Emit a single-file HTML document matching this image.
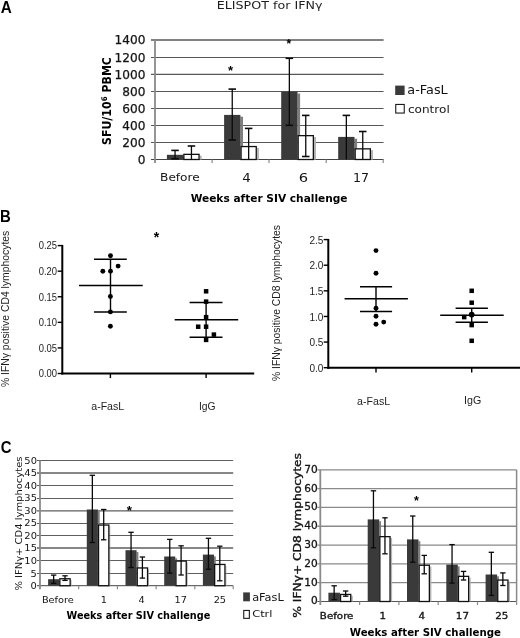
<!DOCTYPE html><html><head><meta charset="utf-8"><title>ELISPOT for IFN&#947;</title><style>html,body{margin:0;padding:0;background:#fff;}svg{display:block;}</style></head><body>
<svg width="520" height="638" viewBox="0 0 520 638">
<rect x="0" y="0" width="520" height="638" fill="#fff"/>
<text x="0.65" y="12.75" font-family="'Liberation Sans',Arial,sans-serif" font-size="16.10" font-weight="bold" fill="#000" textLength="11.01" lengthAdjust="spacingAndGlyphs">A</text>
<text x="216.75" y="9.45" font-family="'DejaVu Sans',Verdana,sans-serif" font-size="11.34" font-weight="normal" fill="#1e1e1e" textLength="105.76" lengthAdjust="spacingAndGlyphs">ELISPOT for IFN&#947;</text>
<text x="137.75" y="163.77" font-family="'DejaVu Sans',Verdana,sans-serif" font-size="11.67" font-weight="normal" fill="#141414" textLength="7.72" lengthAdjust="spacingAndGlyphs" stroke="#141414" stroke-width="0.25">0</text>
<text x="122.32" y="146.77" font-family="'DejaVu Sans',Verdana,sans-serif" font-size="11.67" font-weight="normal" fill="#141414" textLength="23.15" lengthAdjust="spacingAndGlyphs" stroke="#141414" stroke-width="0.25">200</text>
<text x="122.32" y="129.77" font-family="'DejaVu Sans',Verdana,sans-serif" font-size="11.67" font-weight="normal" fill="#141414" textLength="23.15" lengthAdjust="spacingAndGlyphs" stroke="#141414" stroke-width="0.25">400</text>
<text x="122.32" y="112.77" font-family="'DejaVu Sans',Verdana,sans-serif" font-size="11.67" font-weight="normal" fill="#141414" textLength="23.15" lengthAdjust="spacingAndGlyphs" stroke="#141414" stroke-width="0.25">600</text>
<text x="122.32" y="95.77" font-family="'DejaVu Sans',Verdana,sans-serif" font-size="11.67" font-weight="normal" fill="#141414" textLength="23.15" lengthAdjust="spacingAndGlyphs" stroke="#141414" stroke-width="0.25">800</text>
<text x="114.60" y="78.52" font-family="'DejaVu Sans',Verdana,sans-serif" font-size="11.67" font-weight="normal" fill="#141414" textLength="30.87" lengthAdjust="spacingAndGlyphs" stroke="#141414" stroke-width="0.25">1000</text>
<text x="114.60" y="61.77" font-family="'DejaVu Sans',Verdana,sans-serif" font-size="11.67" font-weight="normal" fill="#141414" textLength="30.87" lengthAdjust="spacingAndGlyphs" stroke="#141414" stroke-width="0.25">1200</text>
<text x="114.60" y="44.27" font-family="'DejaVu Sans',Verdana,sans-serif" font-size="11.67" font-weight="normal" fill="#141414" textLength="30.87" lengthAdjust="spacingAndGlyphs" stroke="#141414" stroke-width="0.25">1400</text>
<line x1="151.00" y1="142.50" x2="383.60" y2="142.50" stroke="#585858" stroke-width="1.0"/>
<line x1="151.00" y1="125.50" x2="383.60" y2="125.50" stroke="#585858" stroke-width="1.0"/>
<line x1="151.00" y1="108.50" x2="383.60" y2="108.50" stroke="#585858" stroke-width="1.0"/>
<line x1="151.00" y1="91.50" x2="383.60" y2="91.50" stroke="#585858" stroke-width="1.0"/>
<line x1="151.00" y1="74.25" x2="383.60" y2="74.25" stroke="#585858" stroke-width="1.25"/>
<line x1="151.00" y1="57.50" x2="383.60" y2="57.50" stroke="#585858" stroke-width="1.0"/>
<line x1="151.00" y1="40.00" x2="383.60" y2="40.00" stroke="#585858" stroke-width="1.45"/>
<line x1="151.00" y1="159.50" x2="383.60" y2="159.50" stroke="#444" stroke-width="1.0"/>
<line x1="155.00" y1="40.00" x2="155.00" y2="163.00" stroke="#8a8a8a" stroke-width="1.8"/>
<line x1="212.10" y1="159.50" x2="212.10" y2="163.00" stroke="#8a8a8a" stroke-width="1.2"/>
<line x1="269.00" y1="159.50" x2="269.00" y2="163.00" stroke="#8a8a8a" stroke-width="1.2"/>
<line x1="326.20" y1="159.50" x2="326.20" y2="163.00" stroke="#8a8a8a" stroke-width="1.2"/>
<line x1="383.20" y1="159.50" x2="383.20" y2="163.00" stroke="#8a8a8a" stroke-width="1.2"/>
<rect x="183.20" y="156.60" width="2.60" height="2.90" fill="#7e7e7e"/>
<rect x="166.90" y="154.80" width="16.30" height="4.70" fill="#3a3a3a"/>
<rect x="199.70" y="155.70" width="2.00" height="3.80" fill="#b4b4b4"/>
<rect x="183.85" y="154.35" width="15.20" height="5.15" fill="#fff" stroke="#111" stroke-width="1.3"/>
<rect x="240.40" y="116.70" width="2.60" height="42.80" fill="#7e7e7e"/>
<rect x="224.10" y="114.90" width="16.30" height="44.60" fill="#3a3a3a"/>
<rect x="256.90" y="147.90" width="2.00" height="11.60" fill="#b4b4b4"/>
<rect x="241.05" y="146.55" width="15.20" height="12.95" fill="#fff" stroke="#111" stroke-width="1.3"/>
<rect x="297.50" y="93.50" width="2.60" height="66.00" fill="#7e7e7e"/>
<rect x="281.20" y="91.70" width="16.30" height="67.80" fill="#3a3a3a"/>
<rect x="314.00" y="137.00" width="2.00" height="22.50" fill="#b4b4b4"/>
<rect x="298.15" y="135.65" width="15.20" height="23.85" fill="#fff" stroke="#111" stroke-width="1.3"/>
<rect x="354.50" y="138.70" width="2.60" height="20.80" fill="#7e7e7e"/>
<rect x="338.20" y="136.90" width="16.30" height="22.60" fill="#3a3a3a"/>
<rect x="371.00" y="150.20" width="2.00" height="9.30" fill="#b4b4b4"/>
<rect x="355.15" y="148.85" width="15.20" height="10.65" fill="#fff" stroke="#111" stroke-width="1.3"/>
<line x1="175.05" y1="150.40" x2="175.05" y2="158.80" stroke="#0a0a0a" stroke-width="1.3"/>
<line x1="171.30" y1="150.40" x2="178.80" y2="150.40" stroke="#0a0a0a" stroke-width="1.6"/>
<line x1="171.30" y1="158.80" x2="178.80" y2="158.80" stroke="#0a0a0a" stroke-width="1.6"/>
<line x1="191.45" y1="146.00" x2="191.45" y2="159.40" stroke="#0a0a0a" stroke-width="1.3"/>
<line x1="187.70" y1="146.00" x2="195.20" y2="146.00" stroke="#0a0a0a" stroke-width="1.6"/>
<line x1="232.25" y1="89.10" x2="232.25" y2="140.00" stroke="#0a0a0a" stroke-width="1.3"/>
<line x1="228.50" y1="89.10" x2="236.00" y2="89.10" stroke="#0a0a0a" stroke-width="1.6"/>
<line x1="228.50" y1="140.00" x2="236.00" y2="140.00" stroke="#0a0a0a" stroke-width="1.6"/>
<line x1="248.65" y1="128.40" x2="248.65" y2="159.40" stroke="#0a0a0a" stroke-width="1.3"/>
<line x1="244.90" y1="128.40" x2="252.40" y2="128.40" stroke="#0a0a0a" stroke-width="1.6"/>
<line x1="289.35" y1="58.30" x2="289.35" y2="125.30" stroke="#0a0a0a" stroke-width="1.3"/>
<line x1="285.60" y1="58.30" x2="293.10" y2="58.30" stroke="#0a0a0a" stroke-width="1.6"/>
<line x1="285.60" y1="125.30" x2="293.10" y2="125.30" stroke="#0a0a0a" stroke-width="1.6"/>
<line x1="305.75" y1="115.40" x2="305.75" y2="156.50" stroke="#0a0a0a" stroke-width="1.3"/>
<line x1="302.00" y1="115.40" x2="309.50" y2="115.40" stroke="#0a0a0a" stroke-width="1.6"/>
<line x1="302.00" y1="156.50" x2="309.50" y2="156.50" stroke="#0a0a0a" stroke-width="1.6"/>
<line x1="346.35" y1="115.40" x2="346.35" y2="159.40" stroke="#0a0a0a" stroke-width="1.3"/>
<line x1="342.60" y1="115.40" x2="350.10" y2="115.40" stroke="#0a0a0a" stroke-width="1.6"/>
<line x1="362.75" y1="131.50" x2="362.75" y2="159.40" stroke="#0a0a0a" stroke-width="1.3"/>
<line x1="359.00" y1="131.50" x2="366.50" y2="131.50" stroke="#0a0a0a" stroke-width="1.6"/>
<text x="230.60" y="75.24" font-family="'Liberation Sans',Arial,sans-serif" font-size="13.02" font-weight="bold" text-anchor="middle" fill="#000">*</text>
<text x="288.80" y="47.92" font-family="'Liberation Sans',Arial,sans-serif" font-size="11.98" font-weight="bold" text-anchor="middle" fill="#000">*</text>
<text transform="translate(110.60,144.98) rotate(-90)" font-family="'DejaVu Sans',Verdana,sans-serif" font-size="11.99" font-weight="bold" fill="#000" textLength="87.87" lengthAdjust="spacingAndGlyphs">SFU/10<tspan font-size="65%" dy="-0.40em">6</tspan><tspan dy="0.26em"> PBMC</tspan></text>
<text x="160.07" y="181.40" font-family="'DejaVu Sans',Verdana,sans-serif" font-size="11.33" font-weight="normal" fill="#141414" textLength="39.68" lengthAdjust="spacingAndGlyphs">Before</text>
<text x="242.15" y="181.90" font-family="'DejaVu Sans',Verdana,sans-serif" font-size="12.01" font-weight="normal" fill="#141414" textLength="8.49" lengthAdjust="spacingAndGlyphs">4</text>
<text x="298.80" y="181.65" font-family="'DejaVu Sans',Verdana,sans-serif" font-size="11.66" font-weight="normal" fill="#141414" textLength="9.36" lengthAdjust="spacingAndGlyphs">6</text>
<text x="352.93" y="182.05" font-family="'DejaVu Sans',Verdana,sans-serif" font-size="11.81" font-weight="normal" fill="#141414" textLength="16.07" lengthAdjust="spacingAndGlyphs">17</text>
<text x="190.70" y="201.75" font-family="'DejaVu Sans',Verdana,sans-serif" font-size="11.30" font-weight="bold" fill="#000" textLength="156.87" lengthAdjust="spacingAndGlyphs">Weeks after SIV challenge</text>
<rect x="395.20" y="85.60" width="9.40" height="9.40" fill="#3a3a3a"/>
<rect x="395.75" y="104.45" width="8.50" height="8.60" fill="#fff" stroke="#1a1a1a" stroke-width="1.1"/>
<text x="407.37" y="94.48" font-family="'DejaVu Sans',Verdana,sans-serif" font-size="11.53" font-weight="normal" fill="#141414" textLength="40.35" lengthAdjust="spacingAndGlyphs">a-FasL</text>
<text x="407.95" y="112.60" font-family="'DejaVu Sans',Verdana,sans-serif" font-size="11.22" font-weight="normal" fill="#141414" textLength="41.82" lengthAdjust="spacingAndGlyphs">control</text>
<text x="0.07" y="221.60" font-family="'Liberation Sans',Arial,sans-serif" font-size="15.59" font-weight="bold" fill="#000" textLength="10.79" lengthAdjust="spacingAndGlyphs">B</text>
<line x1="62.30" y1="244.90" x2="62.30" y2="374.50" stroke="#000" stroke-width="2.0"/>
<line x1="61.30" y1="373.50" x2="254.20" y2="373.50" stroke="#000" stroke-width="2.0"/>
<line x1="57.70" y1="245.60" x2="62.30" y2="245.60" stroke="#000" stroke-width="1.4"/>
<text x="38.78" y="249.48" font-family="'Liberation Sans',Arial,sans-serif" font-size="10.21" font-weight="normal" fill="#1e1e1e" textLength="18.32" lengthAdjust="spacingAndGlyphs">0.25</text>
<line x1="57.70" y1="271.18" x2="62.30" y2="271.18" stroke="#000" stroke-width="1.4"/>
<text x="38.78" y="275.06" font-family="'Liberation Sans',Arial,sans-serif" font-size="10.21" font-weight="normal" fill="#1e1e1e" textLength="18.32" lengthAdjust="spacingAndGlyphs">0.20</text>
<line x1="57.70" y1="296.76" x2="62.30" y2="296.76" stroke="#000" stroke-width="1.4"/>
<text x="38.78" y="300.63" font-family="'Liberation Sans',Arial,sans-serif" font-size="10.21" font-weight="normal" fill="#1e1e1e" textLength="18.32" lengthAdjust="spacingAndGlyphs">0.15</text>
<line x1="57.70" y1="322.34" x2="62.30" y2="322.34" stroke="#000" stroke-width="1.4"/>
<text x="38.78" y="326.22" font-family="'Liberation Sans',Arial,sans-serif" font-size="10.21" font-weight="normal" fill="#1e1e1e" textLength="18.32" lengthAdjust="spacingAndGlyphs">0.10</text>
<line x1="57.70" y1="347.92" x2="62.30" y2="347.92" stroke="#000" stroke-width="1.4"/>
<text x="38.78" y="351.79" font-family="'Liberation Sans',Arial,sans-serif" font-size="10.21" font-weight="normal" fill="#1e1e1e" textLength="18.32" lengthAdjust="spacingAndGlyphs">0.05</text>
<line x1="57.70" y1="373.50" x2="62.30" y2="373.50" stroke="#000" stroke-width="1.4"/>
<text x="38.78" y="377.38" font-family="'Liberation Sans',Arial,sans-serif" font-size="10.21" font-weight="normal" fill="#1e1e1e" textLength="18.32" lengthAdjust="spacingAndGlyphs">0.00</text>
<line x1="110.40" y1="373.50" x2="110.40" y2="378.10" stroke="#000" stroke-width="1.4"/>
<line x1="206.10" y1="373.50" x2="206.10" y2="378.10" stroke="#000" stroke-width="1.4"/>
<line x1="79.00" y1="285.60" x2="142.70" y2="285.60" stroke="#000" stroke-width="1.5"/>
<line x1="94.00" y1="259.20" x2="126.80" y2="259.20" stroke="#000" stroke-width="1.5"/>
<line x1="94.00" y1="311.90" x2="126.80" y2="311.90" stroke="#000" stroke-width="1.5"/>
<line x1="110.50" y1="259.20" x2="110.50" y2="311.90" stroke="#000" stroke-width="1.4"/>
<circle cx="110.5" cy="255.7" r="2.45" fill="#000"/>
<circle cx="118.1" cy="266.1" r="2.45" fill="#000"/>
<circle cx="102.8" cy="271.3" r="2.45" fill="#000"/>
<circle cx="110.5" cy="271.3" r="2.45" fill="#000"/>
<circle cx="110.4" cy="296.5" r="2.45" fill="#000"/>
<circle cx="110.4" cy="311.9" r="2.45" fill="#000"/>
<circle cx="110.4" cy="326.3" r="2.45" fill="#000"/>
<line x1="174.70" y1="319.70" x2="238.20" y2="319.70" stroke="#000" stroke-width="1.5"/>
<line x1="189.60" y1="302.40" x2="222.50" y2="302.40" stroke="#000" stroke-width="1.5"/>
<line x1="189.60" y1="337.30" x2="222.50" y2="337.30" stroke="#000" stroke-width="1.5"/>
<line x1="206.10" y1="302.40" x2="206.10" y2="337.30" stroke="#000" stroke-width="1.4"/>
<rect x="203.85" y="289.05" width="4.50" height="4.50" fill="#000"/>
<rect x="203.85" y="299.35" width="4.50" height="4.50" fill="#000"/>
<rect x="203.85" y="314.95" width="4.50" height="4.50" fill="#000"/>
<rect x="195.95" y="324.45" width="4.50" height="4.50" fill="#000"/>
<rect x="203.85" y="324.45" width="4.50" height="4.50" fill="#000"/>
<rect x="211.65" y="332.35" width="4.50" height="4.50" fill="#000"/>
<rect x="203.85" y="337.65" width="4.50" height="4.50" fill="#000"/>
<text x="156.50" y="241.67" font-family="'Liberation Sans',Arial,sans-serif" font-size="14.06" font-weight="bold" text-anchor="middle" fill="#000">*</text>
<text x="91.25" y="410.40" font-family="'Liberation Sans',Arial,sans-serif" font-size="10.65" font-weight="normal" fill="#1e1e1e" textLength="32.94" lengthAdjust="spacingAndGlyphs">a-FasL</text>
<text x="199.00" y="409.83" font-family="'Liberation Sans',Arial,sans-serif" font-size="10.28" font-weight="normal" fill="#1e1e1e" textLength="16.66" lengthAdjust="spacingAndGlyphs">IgG</text>
<text transform="translate(8.77,387.05) rotate(-90)" font-family="'Liberation Sans',Arial,sans-serif" font-size="10.38" font-weight="normal" fill="#1e1e1e" textLength="156.34" lengthAdjust="spacingAndGlyphs">% IFN&#947; positive CD4 lymphocytes</text>
<line x1="328.30" y1="238.90" x2="328.30" y2="368.80" stroke="#000" stroke-width="2.0"/>
<line x1="327.30" y1="367.80" x2="520.00" y2="367.80" stroke="#000" stroke-width="2.0"/>
<line x1="323.70" y1="239.60" x2="328.30" y2="239.60" stroke="#000" stroke-width="1.4"/>
<text x="309.43" y="243.83" font-family="'Liberation Sans',Arial,sans-serif" font-size="10.08" font-weight="normal" fill="#1e1e1e" textLength="13.96" lengthAdjust="spacingAndGlyphs">2.5</text>
<line x1="323.70" y1="265.22" x2="328.30" y2="265.22" stroke="#000" stroke-width="1.4"/>
<text x="309.43" y="269.45" font-family="'Liberation Sans',Arial,sans-serif" font-size="10.08" font-weight="normal" fill="#1e1e1e" textLength="13.96" lengthAdjust="spacingAndGlyphs">2.0</text>
<line x1="323.70" y1="290.84" x2="328.30" y2="290.84" stroke="#000" stroke-width="1.4"/>
<text x="309.43" y="295.07" font-family="'Liberation Sans',Arial,sans-serif" font-size="10.08" font-weight="normal" fill="#1e1e1e" textLength="13.96" lengthAdjust="spacingAndGlyphs">1.5</text>
<line x1="323.70" y1="316.46" x2="328.30" y2="316.46" stroke="#000" stroke-width="1.4"/>
<text x="309.43" y="320.69" font-family="'Liberation Sans',Arial,sans-serif" font-size="10.08" font-weight="normal" fill="#1e1e1e" textLength="13.96" lengthAdjust="spacingAndGlyphs">1.0</text>
<line x1="323.70" y1="342.08" x2="328.30" y2="342.08" stroke="#000" stroke-width="1.4"/>
<text x="309.43" y="346.31" font-family="'Liberation Sans',Arial,sans-serif" font-size="10.08" font-weight="normal" fill="#1e1e1e" textLength="13.96" lengthAdjust="spacingAndGlyphs">0.5</text>
<line x1="323.70" y1="367.70" x2="328.30" y2="367.70" stroke="#000" stroke-width="1.4"/>
<text x="309.43" y="371.93" font-family="'Liberation Sans',Arial,sans-serif" font-size="10.08" font-weight="normal" fill="#1e1e1e" textLength="13.96" lengthAdjust="spacingAndGlyphs">0.0</text>
<line x1="376.00" y1="367.80" x2="376.00" y2="372.40" stroke="#000" stroke-width="1.4"/>
<line x1="471.70" y1="367.80" x2="471.70" y2="372.40" stroke="#000" stroke-width="1.4"/>
<line x1="344.60" y1="298.80" x2="407.90" y2="298.80" stroke="#000" stroke-width="1.5"/>
<line x1="360.00" y1="286.70" x2="392.10" y2="286.70" stroke="#000" stroke-width="1.5"/>
<line x1="360.00" y1="311.50" x2="392.10" y2="311.50" stroke="#000" stroke-width="1.5"/>
<line x1="376.00" y1="286.70" x2="376.00" y2="311.50" stroke="#000" stroke-width="1.4"/>
<circle cx="376" cy="250.6" r="2.45" fill="#000"/>
<circle cx="376" cy="273.3" r="2.45" fill="#000"/>
<circle cx="376" cy="308.3" r="2.45" fill="#000"/>
<circle cx="376" cy="316.3" r="2.45" fill="#000"/>
<circle cx="376" cy="324.2" r="2.45" fill="#000"/>
<circle cx="383.7" cy="322.1" r="2.45" fill="#000"/>
<line x1="440.20" y1="315.20" x2="503.70" y2="315.20" stroke="#000" stroke-width="1.5"/>
<line x1="455.60" y1="308.20" x2="487.90" y2="308.20" stroke="#000" stroke-width="1.5"/>
<line x1="455.60" y1="322.20" x2="487.90" y2="322.20" stroke="#000" stroke-width="1.5"/>
<line x1="471.70" y1="308.20" x2="471.70" y2="322.20" stroke="#000" stroke-width="1.4"/>
<rect x="469.45" y="288.55" width="4.50" height="4.50" fill="#000"/>
<rect x="469.45" y="300.45" width="4.50" height="4.50" fill="#000"/>
<rect x="461.95" y="314.85" width="4.50" height="4.50" fill="#000"/>
<rect x="469.45" y="322.85" width="4.50" height="4.50" fill="#000"/>
<rect x="469.45" y="338.55" width="4.50" height="4.50" fill="#000"/>
<circle cx="471.7" cy="314.6" r="2.9" fill="#000"/>
<text x="357.10" y="404.65" font-family="'Liberation Sans',Arial,sans-serif" font-size="10.65" font-weight="normal" fill="#1e1e1e" textLength="33.05" lengthAdjust="spacingAndGlyphs">a-FasL</text>
<text x="464.00" y="404.25" font-family="'Liberation Sans',Arial,sans-serif" font-size="10.50" font-weight="normal" fill="#1e1e1e" textLength="17.22" lengthAdjust="spacingAndGlyphs">IgG</text>
<text transform="translate(279.52,381.03) rotate(-90)" font-family="'Liberation Sans',Arial,sans-serif" font-size="10.38" font-weight="normal" fill="#1e1e1e" textLength="155.99" lengthAdjust="spacingAndGlyphs">% IFN&#947; positive CD8 lymphocytes</text>
<text x="0.78" y="453.48" font-family="'Liberation Sans',Arial,sans-serif" font-size="15.58" font-weight="bold" fill="#000" textLength="10.73" lengthAdjust="spacingAndGlyphs">C</text>
<text x="30.63" y="589.02" font-family="'DejaVu Sans',Verdana,sans-serif" font-size="9.23" font-weight="normal" fill="#141414" textLength="6.30" lengthAdjust="spacingAndGlyphs">0</text>
<text x="30.63" y="576.50" font-family="'DejaVu Sans',Verdana,sans-serif" font-size="9.23" font-weight="normal" fill="#141414" textLength="6.30" lengthAdjust="spacingAndGlyphs">5</text>
<text x="24.33" y="563.99" font-family="'DejaVu Sans',Verdana,sans-serif" font-size="9.23" font-weight="normal" fill="#141414" textLength="12.60" lengthAdjust="spacingAndGlyphs">10</text>
<text x="24.33" y="551.46" font-family="'DejaVu Sans',Verdana,sans-serif" font-size="9.23" font-weight="normal" fill="#141414" textLength="12.60" lengthAdjust="spacingAndGlyphs">15</text>
<text x="24.33" y="538.94" font-family="'DejaVu Sans',Verdana,sans-serif" font-size="9.23" font-weight="normal" fill="#141414" textLength="12.60" lengthAdjust="spacingAndGlyphs">20</text>
<text x="24.33" y="526.42" font-family="'DejaVu Sans',Verdana,sans-serif" font-size="9.23" font-weight="normal" fill="#141414" textLength="12.60" lengthAdjust="spacingAndGlyphs">25</text>
<text x="24.33" y="513.90" font-family="'DejaVu Sans',Verdana,sans-serif" font-size="9.23" font-weight="normal" fill="#141414" textLength="12.60" lengthAdjust="spacingAndGlyphs">30</text>
<text x="24.33" y="501.38" font-family="'DejaVu Sans',Verdana,sans-serif" font-size="9.23" font-weight="normal" fill="#141414" textLength="12.60" lengthAdjust="spacingAndGlyphs">35</text>
<text x="24.33" y="488.86" font-family="'DejaVu Sans',Verdana,sans-serif" font-size="9.23" font-weight="normal" fill="#141414" textLength="12.60" lengthAdjust="spacingAndGlyphs">40</text>
<text x="24.33" y="476.34" font-family="'DejaVu Sans',Verdana,sans-serif" font-size="9.23" font-weight="normal" fill="#141414" textLength="12.60" lengthAdjust="spacingAndGlyphs">45</text>
<text x="24.33" y="463.82" font-family="'DejaVu Sans',Verdana,sans-serif" font-size="9.23" font-weight="normal" fill="#141414" textLength="12.60" lengthAdjust="spacingAndGlyphs">50</text>
<line x1="37.00" y1="573.50" x2="233.20" y2="573.50" stroke="#5e5e5e" stroke-width="1.0"/>
<line x1="37.00" y1="560.50" x2="233.20" y2="560.50" stroke="#5e5e5e" stroke-width="1.0"/>
<line x1="37.00" y1="548.00" x2="233.20" y2="548.00" stroke="#5e5e5e" stroke-width="1.3"/>
<line x1="37.00" y1="535.50" x2="233.20" y2="535.50" stroke="#5e5e5e" stroke-width="1.0"/>
<line x1="37.00" y1="523.50" x2="233.20" y2="523.50" stroke="#5e5e5e" stroke-width="1.0"/>
<line x1="37.00" y1="510.80" x2="233.20" y2="510.80" stroke="#5e5e5e" stroke-width="1.3"/>
<line x1="37.00" y1="498.50" x2="233.20" y2="498.50" stroke="#5e5e5e" stroke-width="1.0"/>
<line x1="37.00" y1="485.50" x2="233.20" y2="485.50" stroke="#5e5e5e" stroke-width="1.0"/>
<line x1="37.00" y1="473.00" x2="233.20" y2="473.00" stroke="#5e5e5e" stroke-width="1.3"/>
<line x1="37.00" y1="460.50" x2="233.20" y2="460.50" stroke="#5e5e5e" stroke-width="1.0"/>
<line x1="37.00" y1="585.70" x2="233.20" y2="585.70" stroke="#444" stroke-width="1.0"/>
<line x1="40.00" y1="460.50" x2="40.00" y2="589.20" stroke="#8a8a8a" stroke-width="1.8"/>
<line x1="78.70" y1="585.70" x2="78.70" y2="589.20" stroke="#8a8a8a" stroke-width="1.2"/>
<line x1="117.40" y1="585.70" x2="117.40" y2="589.20" stroke="#8a8a8a" stroke-width="1.2"/>
<line x1="156.10" y1="585.70" x2="156.10" y2="589.20" stroke="#8a8a8a" stroke-width="1.2"/>
<line x1="194.80" y1="585.70" x2="194.80" y2="589.20" stroke="#8a8a8a" stroke-width="1.2"/>
<line x1="233.20" y1="585.70" x2="233.20" y2="589.20" stroke="#8a8a8a" stroke-width="1.2"/>
<rect x="59.20" y="581.00" width="1.80" height="4.70" fill="#7e7e7e"/>
<rect x="48.10" y="579.20" width="11.10" height="6.50" fill="#3a3a3a"/>
<rect x="70.80" y="580.10" width="0.80" height="5.60" fill="#b4b4b4"/>
<rect x="59.85" y="578.75" width="10.30" height="6.95" fill="#fff" stroke="#111" stroke-width="1.3"/>
<rect x="97.90" y="511.30" width="1.80" height="74.40" fill="#7e7e7e"/>
<rect x="86.80" y="509.50" width="11.10" height="76.20" fill="#3a3a3a"/>
<rect x="109.50" y="526.40" width="0.80" height="59.30" fill="#b4b4b4"/>
<rect x="98.55" y="525.05" width="10.30" height="60.65" fill="#fff" stroke="#111" stroke-width="1.3"/>
<rect x="136.60" y="552.00" width="1.80" height="33.70" fill="#7e7e7e"/>
<rect x="125.50" y="550.20" width="11.10" height="35.50" fill="#3a3a3a"/>
<rect x="148.20" y="569.30" width="0.80" height="16.40" fill="#b4b4b4"/>
<rect x="137.25" y="567.95" width="10.30" height="17.75" fill="#fff" stroke="#111" stroke-width="1.3"/>
<rect x="175.30" y="558.30" width="1.80" height="27.40" fill="#7e7e7e"/>
<rect x="164.20" y="556.50" width="11.10" height="29.20" fill="#3a3a3a"/>
<rect x="186.90" y="562.40" width="0.80" height="23.30" fill="#b4b4b4"/>
<rect x="175.95" y="561.05" width="10.30" height="24.65" fill="#fff" stroke="#111" stroke-width="1.3"/>
<rect x="214.00" y="556.40" width="1.80" height="29.30" fill="#7e7e7e"/>
<rect x="202.90" y="554.60" width="11.10" height="31.10" fill="#3a3a3a"/>
<rect x="225.60" y="565.80" width="0.80" height="19.90" fill="#b4b4b4"/>
<rect x="214.65" y="564.45" width="10.30" height="21.25" fill="#fff" stroke="#111" stroke-width="1.3"/>
<line x1="53.65" y1="575.10" x2="53.65" y2="583.30" stroke="#0a0a0a" stroke-width="1.3"/>
<line x1="50.95" y1="575.10" x2="56.35" y2="575.10" stroke="#0a0a0a" stroke-width="1.3"/>
<line x1="50.95" y1="583.30" x2="56.35" y2="583.30" stroke="#0a0a0a" stroke-width="1.3"/>
<line x1="65.00" y1="575.80" x2="65.00" y2="580.40" stroke="#0a0a0a" stroke-width="1.3"/>
<line x1="62.30" y1="575.80" x2="67.70" y2="575.80" stroke="#0a0a0a" stroke-width="1.3"/>
<line x1="62.30" y1="580.40" x2="67.70" y2="580.40" stroke="#0a0a0a" stroke-width="1.3"/>
<line x1="92.35" y1="475.30" x2="92.35" y2="542.50" stroke="#0a0a0a" stroke-width="1.3"/>
<line x1="89.65" y1="475.30" x2="95.05" y2="475.30" stroke="#0a0a0a" stroke-width="1.3"/>
<line x1="89.65" y1="542.50" x2="95.05" y2="542.50" stroke="#0a0a0a" stroke-width="1.3"/>
<line x1="103.70" y1="509.50" x2="103.70" y2="539.80" stroke="#0a0a0a" stroke-width="1.3"/>
<line x1="101.00" y1="509.50" x2="106.40" y2="509.50" stroke="#0a0a0a" stroke-width="1.3"/>
<line x1="101.00" y1="539.80" x2="106.40" y2="539.80" stroke="#0a0a0a" stroke-width="1.3"/>
<line x1="131.05" y1="532.30" x2="131.05" y2="567.50" stroke="#0a0a0a" stroke-width="1.3"/>
<line x1="128.35" y1="532.30" x2="133.75" y2="532.30" stroke="#0a0a0a" stroke-width="1.3"/>
<line x1="128.35" y1="567.50" x2="133.75" y2="567.50" stroke="#0a0a0a" stroke-width="1.3"/>
<line x1="142.40" y1="557.00" x2="142.40" y2="578.10" stroke="#0a0a0a" stroke-width="1.3"/>
<line x1="139.70" y1="557.00" x2="145.10" y2="557.00" stroke="#0a0a0a" stroke-width="1.3"/>
<line x1="139.70" y1="578.10" x2="145.10" y2="578.10" stroke="#0a0a0a" stroke-width="1.3"/>
<line x1="169.75" y1="539.40" x2="169.75" y2="573.10" stroke="#0a0a0a" stroke-width="1.3"/>
<line x1="167.05" y1="539.40" x2="172.45" y2="539.40" stroke="#0a0a0a" stroke-width="1.3"/>
<line x1="167.05" y1="573.10" x2="172.45" y2="573.10" stroke="#0a0a0a" stroke-width="1.3"/>
<line x1="181.10" y1="545.80" x2="181.10" y2="575.00" stroke="#0a0a0a" stroke-width="1.3"/>
<line x1="178.40" y1="545.80" x2="183.80" y2="545.80" stroke="#0a0a0a" stroke-width="1.3"/>
<line x1="178.40" y1="575.00" x2="183.80" y2="575.00" stroke="#0a0a0a" stroke-width="1.3"/>
<line x1="208.45" y1="538.30" x2="208.45" y2="569.20" stroke="#0a0a0a" stroke-width="1.3"/>
<line x1="205.75" y1="538.30" x2="211.15" y2="538.30" stroke="#0a0a0a" stroke-width="1.3"/>
<line x1="205.75" y1="569.20" x2="211.15" y2="569.20" stroke="#0a0a0a" stroke-width="1.3"/>
<line x1="219.80" y1="546.20" x2="219.80" y2="580.80" stroke="#0a0a0a" stroke-width="1.3"/>
<line x1="217.10" y1="546.20" x2="222.50" y2="546.20" stroke="#0a0a0a" stroke-width="1.3"/>
<line x1="217.10" y1="580.80" x2="222.50" y2="580.80" stroke="#0a0a0a" stroke-width="1.3"/>
<text x="129.30" y="515.27" font-family="'Liberation Sans',Arial,sans-serif" font-size="13.28" font-weight="bold" text-anchor="middle" fill="#000">*</text>
<text transform="translate(21.95,590.57) rotate(-90)" font-family="'DejaVu Sans',Verdana,sans-serif" font-size="8.75" font-weight="normal" fill="#141414" textLength="134.04" lengthAdjust="spacingAndGlyphs">% IFN&#947;+ CD4 lymphocytes</text>
<text x="41.90" y="603.03" font-family="'DejaVu Sans',Verdana,sans-serif" font-size="8.87" font-weight="normal" fill="#141414" textLength="31.86" lengthAdjust="spacingAndGlyphs">Before</text>
<text x="100.80" y="603.03" font-family="'DejaVu Sans',Verdana,sans-serif" font-size="8.87" font-weight="normal" fill="#141414" textLength="6.20" lengthAdjust="spacingAndGlyphs">1</text>
<text x="138.55" y="603.03" font-family="'DejaVu Sans',Verdana,sans-serif" font-size="8.87" font-weight="normal" fill="#141414" textLength="6.20" lengthAdjust="spacingAndGlyphs">4</text>
<text x="174.45" y="603.03" font-family="'DejaVu Sans',Verdana,sans-serif" font-size="8.87" font-weight="normal" fill="#141414" textLength="12.40" lengthAdjust="spacingAndGlyphs">17</text>
<text x="213.65" y="603.03" font-family="'DejaVu Sans',Verdana,sans-serif" font-size="8.87" font-weight="normal" fill="#141414" textLength="12.40" lengthAdjust="spacingAndGlyphs">25</text>
<text x="66.57" y="618.67" font-family="'DejaVu Sans',Verdana,sans-serif" font-size="10.01" font-weight="bold" fill="#000" textLength="143.72" lengthAdjust="spacingAndGlyphs">Weeks after SIV challenge</text>
<rect x="243.20" y="592.40" width="6.70" height="8.90" fill="#3a3a3a"/>
<rect x="243.75" y="610.45" width="5.60" height="7.90" fill="#fff" stroke="#1a1a1a" stroke-width="1.1"/>
<text x="252.18" y="601.35" font-family="'DejaVu Sans',Verdana,sans-serif" font-size="10.01" font-weight="normal" fill="#141414" textLength="31.63" lengthAdjust="spacingAndGlyphs">aFasL</text>
<text x="252.20" y="617.48" font-family="'DejaVu Sans',Verdana,sans-serif" font-size="9.38" font-weight="normal" fill="#141414" textLength="20.28" lengthAdjust="spacingAndGlyphs">Ctrl</text>
<text x="311.03" y="604.47" font-family="'DejaVu Sans',Verdana,sans-serif" font-size="10.44" font-weight="normal" fill="#141414" textLength="6.73" lengthAdjust="spacingAndGlyphs" stroke="#141414" stroke-width="0.3">0</text>
<text x="304.30" y="585.66" font-family="'DejaVu Sans',Verdana,sans-serif" font-size="10.44" font-weight="normal" fill="#141414" textLength="13.45" lengthAdjust="spacingAndGlyphs" stroke="#141414" stroke-width="0.3">10</text>
<text x="304.30" y="566.85" font-family="'DejaVu Sans',Verdana,sans-serif" font-size="10.44" font-weight="normal" fill="#141414" textLength="13.45" lengthAdjust="spacingAndGlyphs" stroke="#141414" stroke-width="0.3">20</text>
<text x="304.30" y="548.03" font-family="'DejaVu Sans',Verdana,sans-serif" font-size="10.44" font-weight="normal" fill="#141414" textLength="13.45" lengthAdjust="spacingAndGlyphs" stroke="#141414" stroke-width="0.3">30</text>
<text x="304.30" y="529.22" font-family="'DejaVu Sans',Verdana,sans-serif" font-size="10.44" font-weight="normal" fill="#141414" textLength="13.45" lengthAdjust="spacingAndGlyphs" stroke="#141414" stroke-width="0.3">40</text>
<text x="304.30" y="510.40" font-family="'DejaVu Sans',Verdana,sans-serif" font-size="10.44" font-weight="normal" fill="#141414" textLength="13.45" lengthAdjust="spacingAndGlyphs" stroke="#141414" stroke-width="0.3">50</text>
<text x="304.30" y="491.59" font-family="'DejaVu Sans',Verdana,sans-serif" font-size="10.44" font-weight="normal" fill="#141414" textLength="13.45" lengthAdjust="spacingAndGlyphs" stroke="#141414" stroke-width="0.3">60</text>
<text x="304.30" y="472.77" font-family="'DejaVu Sans',Verdana,sans-serif" font-size="10.44" font-weight="normal" fill="#141414" textLength="13.45" lengthAdjust="spacingAndGlyphs" stroke="#141414" stroke-width="0.3">70</text>
<line x1="317.30" y1="582.69" x2="516.60" y2="582.69" stroke="#8a8a8a" stroke-width="1.3"/>
<line x1="317.30" y1="563.87" x2="516.60" y2="563.87" stroke="#8a8a8a" stroke-width="1.3"/>
<line x1="317.30" y1="545.06" x2="516.60" y2="545.06" stroke="#8a8a8a" stroke-width="1.3"/>
<line x1="317.30" y1="526.24" x2="516.60" y2="526.24" stroke="#8a8a8a" stroke-width="1.3"/>
<line x1="317.30" y1="507.43" x2="516.60" y2="507.43" stroke="#8a8a8a" stroke-width="1.3"/>
<line x1="317.30" y1="488.61" x2="516.60" y2="488.61" stroke="#8a8a8a" stroke-width="1.3"/>
<line x1="317.30" y1="469.80" x2="516.60" y2="469.80" stroke="#8a8a8a" stroke-width="1.3"/>
<line x1="317.30" y1="601.50" x2="516.60" y2="601.50" stroke="#555" stroke-width="1.2"/>
<line x1="516.60" y1="469.80" x2="516.60" y2="601.50" stroke="#8a8a8a" stroke-width="1.5"/>
<line x1="320.30" y1="469.80" x2="320.30" y2="605.00" stroke="#8a8a8a" stroke-width="1.8"/>
<line x1="359.60" y1="601.50" x2="359.60" y2="605.00" stroke="#8a8a8a" stroke-width="1.2"/>
<line x1="398.90" y1="601.50" x2="398.90" y2="605.00" stroke="#8a8a8a" stroke-width="1.2"/>
<line x1="438.20" y1="601.50" x2="438.20" y2="605.00" stroke="#8a8a8a" stroke-width="1.2"/>
<line x1="477.50" y1="601.50" x2="477.50" y2="605.00" stroke="#8a8a8a" stroke-width="1.2"/>
<line x1="516.60" y1="601.50" x2="516.60" y2="605.00" stroke="#8a8a8a" stroke-width="1.2"/>
<rect x="339.90" y="594.50" width="1.80" height="7.00" fill="#7e7e7e"/>
<rect x="328.40" y="592.70" width="11.50" height="8.80" fill="#3a3a3a"/>
<rect x="351.40" y="595.80" width="1.40" height="5.70" fill="#b4b4b4"/>
<rect x="340.55" y="594.45" width="10.20" height="7.05" fill="#fff" stroke="#111" stroke-width="1.3"/>
<rect x="379.20" y="521.20" width="1.80" height="80.30" fill="#7e7e7e"/>
<rect x="367.70" y="519.40" width="11.50" height="82.10" fill="#3a3a3a"/>
<rect x="390.70" y="538.00" width="1.40" height="63.50" fill="#b4b4b4"/>
<rect x="379.85" y="536.65" width="10.20" height="64.85" fill="#fff" stroke="#111" stroke-width="1.3"/>
<rect x="418.50" y="541.20" width="1.80" height="60.30" fill="#7e7e7e"/>
<rect x="407.00" y="539.40" width="11.50" height="62.10" fill="#3a3a3a"/>
<rect x="430.00" y="566.60" width="1.40" height="34.90" fill="#b4b4b4"/>
<rect x="419.15" y="565.25" width="10.20" height="36.25" fill="#fff" stroke="#111" stroke-width="1.3"/>
<rect x="457.80" y="566.40" width="1.80" height="35.10" fill="#7e7e7e"/>
<rect x="446.30" y="564.60" width="11.50" height="36.90" fill="#3a3a3a"/>
<rect x="469.30" y="577.70" width="1.40" height="23.80" fill="#b4b4b4"/>
<rect x="458.45" y="576.35" width="10.20" height="25.15" fill="#fff" stroke="#111" stroke-width="1.3"/>
<rect x="497.10" y="576.30" width="1.80" height="25.20" fill="#7e7e7e"/>
<rect x="485.60" y="574.50" width="11.50" height="27.00" fill="#3a3a3a"/>
<rect x="508.60" y="581.40" width="1.40" height="20.10" fill="#b4b4b4"/>
<rect x="497.75" y="580.05" width="10.20" height="21.45" fill="#fff" stroke="#111" stroke-width="1.3"/>
<line x1="334.15" y1="585.80" x2="334.15" y2="599.60" stroke="#0a0a0a" stroke-width="1.3"/>
<line x1="331.45" y1="585.80" x2="336.85" y2="585.80" stroke="#0a0a0a" stroke-width="1.3"/>
<line x1="331.45" y1="599.60" x2="336.85" y2="599.60" stroke="#0a0a0a" stroke-width="1.3"/>
<line x1="345.65" y1="591.00" x2="345.65" y2="596.20" stroke="#0a0a0a" stroke-width="1.3"/>
<line x1="342.95" y1="591.00" x2="348.35" y2="591.00" stroke="#0a0a0a" stroke-width="1.3"/>
<line x1="342.95" y1="596.20" x2="348.35" y2="596.20" stroke="#0a0a0a" stroke-width="1.3"/>
<line x1="373.45" y1="490.80" x2="373.45" y2="547.80" stroke="#0a0a0a" stroke-width="1.3"/>
<line x1="370.75" y1="490.80" x2="376.15" y2="490.80" stroke="#0a0a0a" stroke-width="1.3"/>
<line x1="370.75" y1="547.80" x2="376.15" y2="547.80" stroke="#0a0a0a" stroke-width="1.3"/>
<line x1="384.95" y1="517.80" x2="384.95" y2="553.80" stroke="#0a0a0a" stroke-width="1.3"/>
<line x1="382.25" y1="517.80" x2="387.65" y2="517.80" stroke="#0a0a0a" stroke-width="1.3"/>
<line x1="382.25" y1="553.80" x2="387.65" y2="553.80" stroke="#0a0a0a" stroke-width="1.3"/>
<line x1="412.75" y1="516.00" x2="412.75" y2="562.20" stroke="#0a0a0a" stroke-width="1.3"/>
<line x1="410.05" y1="516.00" x2="415.45" y2="516.00" stroke="#0a0a0a" stroke-width="1.3"/>
<line x1="410.05" y1="562.20" x2="415.45" y2="562.20" stroke="#0a0a0a" stroke-width="1.3"/>
<line x1="424.25" y1="555.40" x2="424.25" y2="573.80" stroke="#0a0a0a" stroke-width="1.3"/>
<line x1="421.55" y1="555.40" x2="426.95" y2="555.40" stroke="#0a0a0a" stroke-width="1.3"/>
<line x1="421.55" y1="573.80" x2="426.95" y2="573.80" stroke="#0a0a0a" stroke-width="1.3"/>
<line x1="452.05" y1="544.60" x2="452.05" y2="583.10" stroke="#0a0a0a" stroke-width="1.3"/>
<line x1="449.35" y1="544.60" x2="454.75" y2="544.60" stroke="#0a0a0a" stroke-width="1.3"/>
<line x1="449.35" y1="583.10" x2="454.75" y2="583.10" stroke="#0a0a0a" stroke-width="1.3"/>
<line x1="463.55" y1="571.40" x2="463.55" y2="580.00" stroke="#0a0a0a" stroke-width="1.3"/>
<line x1="460.85" y1="571.40" x2="466.25" y2="571.40" stroke="#0a0a0a" stroke-width="1.3"/>
<line x1="460.85" y1="580.00" x2="466.25" y2="580.00" stroke="#0a0a0a" stroke-width="1.3"/>
<line x1="491.35" y1="552.30" x2="491.35" y2="595.40" stroke="#0a0a0a" stroke-width="1.3"/>
<line x1="488.65" y1="552.30" x2="494.05" y2="552.30" stroke="#0a0a0a" stroke-width="1.3"/>
<line x1="488.65" y1="595.40" x2="494.05" y2="595.40" stroke="#0a0a0a" stroke-width="1.3"/>
<line x1="502.85" y1="572.90" x2="502.85" y2="585.50" stroke="#0a0a0a" stroke-width="1.3"/>
<line x1="500.15" y1="572.90" x2="505.55" y2="572.90" stroke="#0a0a0a" stroke-width="1.3"/>
<line x1="500.15" y1="585.50" x2="505.55" y2="585.50" stroke="#0a0a0a" stroke-width="1.3"/>
<text x="416.50" y="505.48" font-family="'Liberation Sans',Arial,sans-serif" font-size="12.50" font-weight="bold" text-anchor="middle" fill="#000">*</text>
<text transform="translate(300.65,617.65) rotate(-90)" font-family="'DejaVu Sans',Verdana,sans-serif" font-size="10.20" font-weight="normal" fill="#141414" textLength="164.63" lengthAdjust="spacingAndGlyphs" stroke="#141414" stroke-width="0.35">% IFN&#947;+ CD8 lymphocytes</text>
<text x="319.87" y="618.75" font-family="'DejaVu Sans',Verdana,sans-serif" font-size="8.49" font-weight="normal" fill="#141414" textLength="33.60" lengthAdjust="spacingAndGlyphs" stroke="#141414" stroke-width="0.3">Before</text>
<text x="379.63" y="618.75" font-family="'DejaVu Sans',Verdana,sans-serif" font-size="8.49" font-weight="normal" fill="#141414" textLength="6.54" lengthAdjust="spacingAndGlyphs" stroke="#141414" stroke-width="0.3">1</text>
<text x="418.58" y="618.75" font-family="'DejaVu Sans',Verdana,sans-serif" font-size="8.49" font-weight="normal" fill="#141414" textLength="6.54" lengthAdjust="spacingAndGlyphs" stroke="#141414" stroke-width="0.3">4</text>
<text x="455.86" y="618.75" font-family="'DejaVu Sans',Verdana,sans-serif" font-size="8.49" font-weight="normal" fill="#141414" textLength="13.08" lengthAdjust="spacingAndGlyphs" stroke="#141414" stroke-width="0.3">17</text>
<text x="495.26" y="618.75" font-family="'DejaVu Sans',Verdana,sans-serif" font-size="8.49" font-weight="normal" fill="#141414" textLength="13.08" lengthAdjust="spacingAndGlyphs" stroke="#141414" stroke-width="0.3">25</text>
<text x="349.77" y="635.50" font-family="'DejaVu Sans',Verdana,sans-serif" font-size="10.76" font-weight="bold" fill="#000" textLength="151.21" lengthAdjust="spacingAndGlyphs">Weeks after SIV challenge</text>
</svg></body></html>
